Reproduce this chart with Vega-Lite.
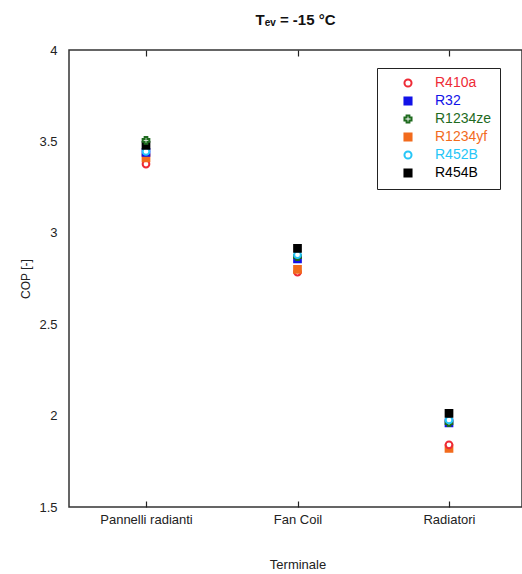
{
  "$schema": "https://vega.github.io/schema/vega-lite/v6.json",
  "width": 453,
  "height": 457,
  "autosize": {"type": "none"},
  "padding": {"left": 69, "top": 50, "right": 0, "bottom": 67},
  "background": "white",
  "config": {
    "font": "Liberation Sans",
    "view": {"stroke": "#333", "strokeWidth": 1.5}
  },
  "title": {
    "text": "Tₑᵥ = -15 °C",
    "fontSize": 15,
    "fontWeight": "bold",
    "color": "#111",
    "offset": 16,
    "anchor": "middle"
  },
  "data": {
    "values": [
      {"terminale": "Pannelli radianti", "fluido": "R410a", "cop": 3.376},
      {"terminale": "Fan Coil", "fluido": "R410a", "cop": 2.785},
      {"terminale": "Radiatori", "fluido": "R410a", "cop": 1.84},
      {"terminale": "Pannelli radianti", "fluido": "R32", "cop": 3.44},
      {"terminale": "Fan Coil", "fluido": "R32", "cop": 2.857},
      {"terminale": "Radiatori", "fluido": "R32", "cop": 1.96},
      {"terminale": "Pannelli radianti", "fluido": "R1234ze", "cop": 3.506},
      {"terminale": "Fan Coil", "fluido": "R1234ze", "cop": 2.87},
      {"terminale": "Radiatori", "fluido": "R1234ze", "cop": 1.962},
      {"terminale": "Pannelli radianti", "fluido": "R1234yf", "cop": 3.41},
      {"terminale": "Fan Coil", "fluido": "R1234yf", "cop": 2.80},
      {"terminale": "Radiatori", "fluido": "R1234yf", "cop": 1.82},
      {"terminale": "Pannelli radianti", "fluido": "R452B", "cop": 3.445},
      {"terminale": "Fan Coil", "fluido": "R452B", "cop": 2.88},
      {"terminale": "Radiatori", "fluido": "R452B", "cop": 1.976},
      {"terminale": "Pannelli radianti", "fluido": "R454B", "cop": 3.478},
      {"terminale": "Fan Coil", "fluido": "R454B", "cop": 2.915},
      {"terminale": "Radiatori", "fluido": "R454B", "cop": 2.012}
    ]
  },
  "layer": [
    {
      "mark": {"type": "point", "opacity": 0},
      "encoding": {
        "x": {
          "field": "terminale", "type": "nominal",
          "sort": ["Pannelli radianti", "Fan Coil", "Radiatori"],
          "scale": {"type": "point", "range": [77, 380], "padding": 0},
          "axis": {"orient": "top", "labels": false, "title": null, "domain": false, "tickSize": -6, "tickColor": "#222", "tickWidth": 1.2}
        },
        "y": {"field": "cop", "type": "quantitative", "scale": {"domain": [1.5, 4]}}
      }
    },
    {
      "mark": {"type": "point", "strokeWidth": 2, "opacity": 1},
      "encoding": {
        "x": {
          "field": "terminale", "type": "nominal",
          "sort": ["Pannelli radianti", "Fan Coil", "Radiatori"],
          "scale": {"type": "point", "range": [77, 380], "padding": 0},
          "axis": {
            "orient": "bottom", "title": "Terminale", "labelAngle": 0,
            "domain": false, "tickSize": -6, "tickColor": "#222", "tickWidth": 1.2,
            "labelFontSize": 13, "labelColor": "#222", "labelPadding": 12,
            "titleFontSize": 13, "titleFontWeight": "normal", "titleColor": "#222",
            "titlePadding": 32
          }
        },
        "y": {
          "field": "cop", "type": "quantitative",
          "scale": {"domain": [1.5, 4], "zero": false},
          "axis": {
            "title": "COP [-]", "values": [1.5, 2, 2.5, 3, 3.5, 4], "format": "~g",
            "grid": false, "domain": false, "ticks": false,
            "labelFontSize": 13, "labelColor": "#222", "labelPadding": 12,
            "titleFontSize": 12, "titleFontWeight": "normal", "titleColor": "#222", "titlePadding": 6
          }
        },
        "stroke": {
          "field": "fluido", "type": "nominal",
          "scale": {
            "domain": ["R410a", "R32", "R1234ze", "R1234yf", "R452B", "R454B"],
            "range": ["#ee2b36", "#1212e8", "#1f6b1f", "#f26b1d", "#26c6f7", "#000000"]
          },
          "legend": {
            "title": null, "orient": "none", "legendX": 308, "legendY": 18,
            "strokeColor": "#222", "fillColor": "white", "padding": 8,
            "labelFontSize": 14, "rowPadding": 2, "symbolOffset": 16,
            "labelOffset": 20, "symbolStrokeWidth": 2, "symbolSize": 50,
            "labelColor": {"expr": "scale('stroke', datum.value)"}
          }
        },
        "fill": {
          "field": "fluido", "type": "nominal",
          "scale": {
            "domain": ["R410a", "R32", "R1234ze", "R1234yf", "R452B", "R454B"],
            "range": ["white", "#1212e8", "white", "#f26b1d", "white", "#000000"]
          },
          "legend": {
            "title": null, "orient": "none", "legendX": 308, "legendY": 18,
            "strokeColor": "#222", "fillColor": "white", "padding": 8,
            "labelFontSize": 14, "rowPadding": 2, "symbolOffset": 16,
            "labelOffset": 20, "symbolStrokeWidth": 2, "symbolSize": 50,
            "labelColor": {"expr": "scale('stroke', datum.value)"}
          }
        },
        "shape": {
          "field": "fluido", "type": "nominal",
          "scale": {
            "domain": ["R410a", "R32", "R1234ze", "R1234yf", "R452B", "R454B"],
            "range": ["circle", "square", "cross", "square", "circle", "square"]
          },
          "legend": {
            "title": null, "orient": "none", "legendX": 308, "legendY": 18,
            "strokeColor": "#222", "fillColor": "white", "padding": 8,
            "labelFontSize": 14, "rowPadding": 2, "symbolOffset": 16,
            "labelOffset": 20, "symbolStrokeWidth": 2, "symbolSize": 50,
            "labelColor": {"expr": "scale('stroke', datum.value)"}
          }
        },
        "size": {"value": 45},
        "order": {"field": "cop"}
      }
    }
  ]
}
